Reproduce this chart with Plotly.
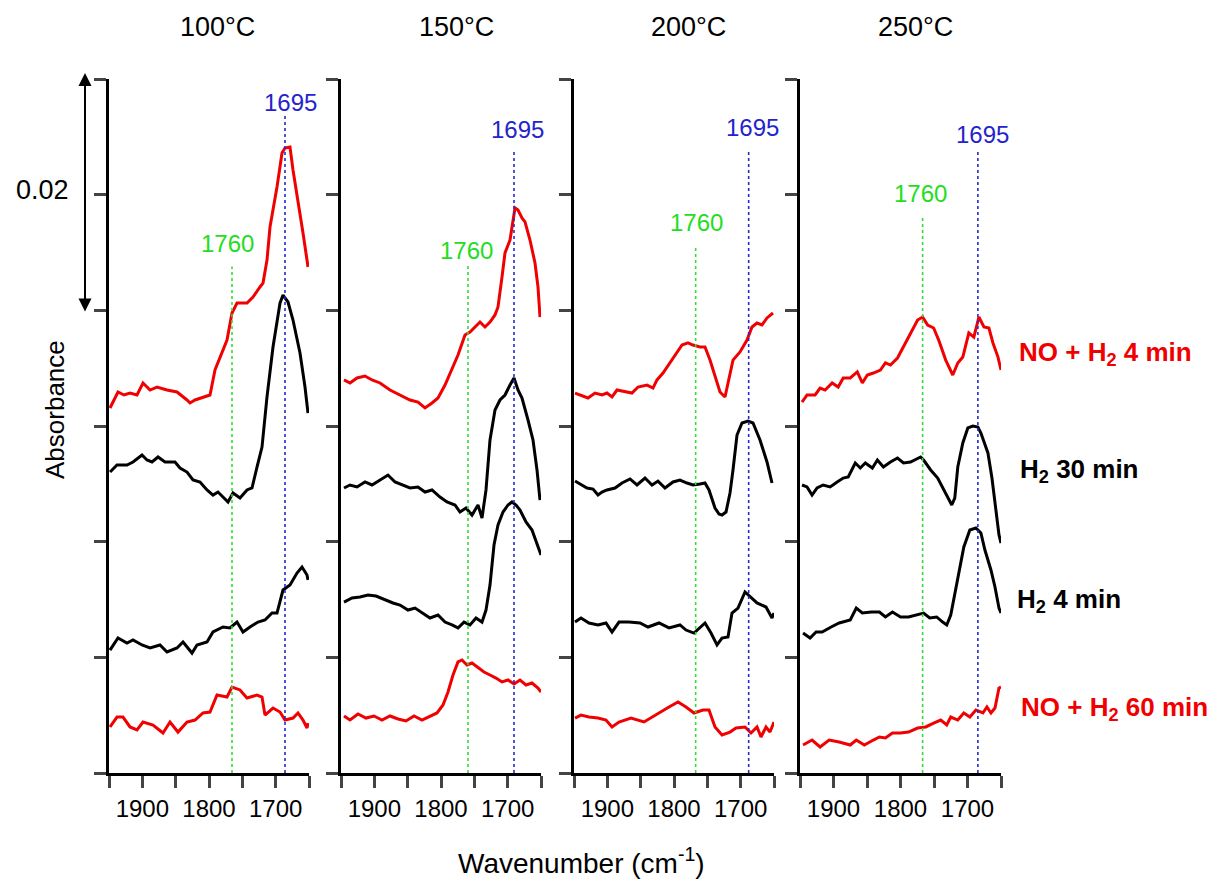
import plotly.graph_objects as go

# ---------------- data (absorbance in units of 1e-3) ----------------
temps = ["100°C", "150°C", "200°C", "250°C"]
series_names = ["NO + H<sub>2</sub> 4 min", "H<sub>2</sub> 30 min", "H<sub>2</sub> 4 min", "NO + H<sub>2</sub> 60 min"]
series_colors = ["#f00000", "#000000", "#000000", "#f00000"]

x_ticks = [1950, 1900, 1850, 1800, 1750, 1700, 1650]
x_tick_text = ["", "1900", "", "1800", "", "1700", ""]
y_ticks = [0, 10, 20, 30, 40, 50, 60]

# 100 C
wn_100_no4 = [1948.5,1936.5,1927.5,1918.5,1908,1899,1888.5,1878,1863,1848,1833,1828.5,1821,1809,1798.5,1791,1783.5,1773,1765.5,1758,1743,1734,1723.5,1719,1713,1708.5,1698,1690.5,1686,1678.5,1674,1666.5,1659,1653,1651.5]
ab_100_no4 = [31.56,32.94,32.68,32.85,32.68,33.72,33.11,33.37,33.11,32.94,32.25,31.99,32.25,32.51,32.68,34.84,35.96,37.43,39.77,40.63,40.63,41.15,42.02,42.36,44.35,47.20,50.66,53.60,54.03,54.12,52.13,49.54,46.68,44.35,43.75]
wn_100_h30 = [1948.5,1938,1923,1914,1900.5,1893,1885.5,1876.5,1866,1851,1843.5,1833,1824,1813.5,1803,1794,1786.5,1771.5,1764,1753.5,1743,1735.5,1728,1720.5,1713,1704,1693.5,1689,1681.5,1674,1663.5,1656,1651.5]
ab_100_h30 = [26.02,26.63,26.63,26.89,27.49,27.06,26.89,27.32,26.89,26.89,26.37,26.02,25.33,25.16,24.47,24.03,24.29,23.43,24.21,23.77,24.47,24.64,26.45,28.18,32.51,36.83,40.63,41.32,40.72,39.16,36.31,33.37,31.12]
wn_100_h4 = [1948.5,1936.5,1923,1914,1900.5,1888.5,1873.5,1863,1848,1839,1825.5,1818,1803,1794,1779,1768.5,1758,1749,1738.5,1726.5,1716,1705.5,1698,1689,1678.5,1668,1660.5,1653,1651.5]
ab_100_h4 = [10.63,11.67,11.24,11.50,11.07,10.81,11.07,10.46,10.81,11.33,10.37,11.07,11.33,12.19,12.62,12.54,13.05,12.19,12.62,13.05,13.23,13.83,13.83,15.82,16.25,17.29,17.81,17.12,16.69]
wn_100_no60 = [1948.5,1938,1929,1918.5,1908,1899,1884,1869,1858.5,1846.5,1833,1821,1809,1798.5,1788,1773,1765.5,1753.5,1743,1728,1720.5,1716,1704,1693.5,1686,1674,1666.5,1659,1653,1651.5]
ab_100_no60 = [3.98,4.84,4.84,3.98,3.72,4.41,4.15,3.46,4.41,3.54,4.41,4.58,5.19,5.27,6.74,6.57,7.43,7.18,6.48,6.74,6.57,5.01,5.62,5.27,4.58,4.75,5.19,4.58,3.89,4.32]

# 150 C
wn_150_no4 = [1945.5,1936.5,1926,1914,1903.5,1891.5,1876.5,1861.5,1846.5,1834.5,1824,1813.5,1804.5,1794,1783.5,1774.5,1764,1756.5,1746,1741.5,1734,1726.5,1719,1714.5,1708.5,1704,1696.5,1692,1689,1684.5,1678.5,1674,1666.5,1659,1654.5,1651.5]
ab_150_no4 = [33.98,33.72,34.15,34.32,33.98,33.72,33.11,32.68,32.25,32.07,31.56,31.99,32.42,33.54,35.01,36.14,37.87,38.13,38.73,38.99,38.56,38.99,39.60,40.29,42.88,44.96,46.08,47.55,48.85,48.67,47.98,47.64,46.08,44.09,42.02,39.42]
wn_150_h30 = [1945.5,1936.5,1926,1914,1903.5,1891.5,1879.5,1869,1858.5,1846.5,1834.5,1824,1813.5,1801.5,1791,1779,1771.5,1762.5,1753.5,1744.5,1738.5,1732.5,1726.5,1719,1711.5,1704,1696.5,1690.5,1684.5,1678.5,1669.5,1662,1656,1651.5]
ab_150_h30 = [24.64,24.90,24.73,25.16,24.90,25.33,25.76,25.16,24.90,24.64,24.73,24.29,24.47,23.86,23.43,23.17,22.56,22.91,22.30,23.17,22.05,24.47,28.79,31.38,32.25,32.68,33.54,34.15,33.11,32.42,30.52,28.79,26.20,23.60]
wn_150_h4 = [1945.5,1933.5,1921.5,1909.5,1897.5,1884,1872,1861.5,1849.5,1839,1828.5,1816.5,1804.5,1794,1783.5,1774.5,1765.5,1756.5,1747.5,1738.5,1732.5,1726.5,1720.5,1714.5,1707,1699.5,1693.5,1687.5,1681.5,1672.5,1663.5,1656,1650]
ab_150_h4 = [14.78,15.13,15.22,15.39,15.30,14.96,14.70,14.52,14.09,14.26,13.83,13.40,13.66,13.05,12.80,12.54,13.05,12.80,13.40,13.05,14.09,16.25,19.71,21.44,22.56,23.17,23.43,23.17,22.74,21.70,21.01,19.71,18.85]
wn_150_no60 = [1945.5,1936.5,1924.5,1912.5,1900.5,1888.5,1876.5,1864.5,1852.5,1840.5,1828.5,1816.5,1806,1797,1789.5,1782,1774.5,1768.5,1761,1753.5,1744.5,1735.5,1726.5,1717.5,1708.5,1699.5,1690.5,1681.5,1672.5,1663.5,1654.5,1650]
ab_150_no60 = [4.93,4.58,5.10,4.75,4.93,4.58,4.93,4.67,4.50,4.93,4.58,4.93,5.19,5.88,7.00,8.47,9.60,9.77,9.34,9.51,9.08,8.73,8.47,8.21,7.87,8.04,7.69,8.04,7.61,7.78,7.35,7.00]

# 200 C
wn_200_no4 = [1948.5,1941,1929,1918.5,1908,1900.5,1893,1885.5,1873.5,1863,1854,1840.5,1831.5,1825.5,1816.5,1806,1795.5,1788,1779,1771.5,1761,1753.5,1746,1738.5,1731,1723.5,1719,1711.5,1701,1690.5,1683,1675.5,1668,1660.5,1651.5]
ab_200_no4 = [32.85,32.68,32.42,32.85,32.68,32.85,32.51,33.11,32.94,32.85,33.37,33.54,33.28,33.98,34.58,35.45,36.40,37.00,37.18,37.00,36.83,36.83,35.70,34.24,32.94,32.51,33.72,35.70,36.40,37.43,38.56,38.90,38.73,39.34,39.77]
wn_200_h30 = [1948.5,1941,1930.5,1921.5,1914,1908,1900.5,1888.5,1878,1866,1855.5,1843.5,1833,1824,1813.5,1801.5,1791,1780.5,1771.5,1761,1753.5,1747.5,1738.5,1732.5,1728,1722,1716,1711.5,1705.5,1698,1689,1681.5,1671,1660.5,1653]
ab_200_h30 = [25.24,24.98,24.64,24.55,24.03,24.29,24.47,24.64,25.07,25.42,24.90,25.50,24.90,25.24,24.64,25.16,25.33,25.07,24.90,24.98,25.07,24.47,22.91,22.39,22.30,22.56,24.21,26.20,29.22,30.26,30.43,30.26,28.79,26.89,25.07]
wn_200_h4 = [1948.5,1939.5,1927.5,1914,1902,1893,1882.5,1867.5,1851,1839,1822.5,1807.5,1791,1782,1770,1753.5,1744.5,1735.5,1728,1719,1713,1704,1693.5,1684.5,1675.5,1662,1653,1650]
ab_200_h4 = [13.05,13.40,12.97,12.80,12.97,12.19,13.05,13.05,12.97,12.62,12.97,12.54,12.80,12.36,12.10,12.97,12.10,11.07,11.67,11.76,13.83,14.26,15.65,15.13,14.70,14.35,13.40,13.83]
wn_200_no60 = [1948.5,1939.5,1927.5,1914,1902,1893,1882.5,1864.5,1845,1833,1819.5,1807.5,1794,1782,1770,1756.5,1747.5,1738.5,1728,1716,1707,1693.5,1684.5,1675.5,1669.5,1662,1656,1650]
ab_200_no60 = [4.75,5.01,4.84,4.75,4.58,3.98,4.41,4.75,4.41,4.84,5.27,5.71,6.14,5.71,5.19,5.45,5.45,3.98,3.29,3.54,3.89,3.98,3.46,3.98,3.11,3.98,3.54,4.41]

# 250 C
wn_250_no4 = [1947,1939.5,1927.5,1920,1912.5,1902,1893,1885.5,1875,1864.5,1857,1849.5,1840.5,1830,1822.5,1815,1804.5,1795.5,1785,1774.5,1767,1759.5,1750.5,1743,1732.5,1722,1714.5,1707,1698,1690.5,1683,1675.5,1668,1662,1654.5,1650]
ab_250_no4 = [32.07,32.68,32.68,33.28,33.11,33.72,33.37,34.15,34.15,34.67,33.72,34.41,34.58,34.84,35.45,35.27,35.88,36.83,38.04,39.16,39.42,38.73,38.47,37.43,35.70,34.41,35.45,35.96,38.04,37.69,39.42,38.56,38.47,37.18,35.96,34.84]
wn_250_h30 = [1947,1939.5,1932,1924.5,1915.5,1905,1894.5,1885.5,1878,1867.5,1860,1852.5,1842,1834.5,1825.5,1815,1804.5,1795.5,1785,1770,1765.5,1755,1744.5,1735.5,1728,1723.5,1719,1714.5,1707,1699.5,1692,1684.5,1680,1669.5,1663.5,1659,1653,1650]
ab_250_h30 = [24.90,24.73,24.03,24.64,24.90,24.73,25.16,25.50,25.59,26.80,26.37,26.80,26.37,27.06,26.45,26.89,27.23,26.80,26.89,27.32,27.06,26.20,25.50,24.47,23.60,23.17,23.77,26.45,28.53,29.83,30.00,29.91,29.39,27.67,25.50,23.17,20.58,19.88]
wn_250_h4 = [1945.5,1935,1926,1917,1903.5,1891.5,1875,1866,1857,1843.5,1831.5,1822.5,1812,1800,1788,1774.5,1765.5,1756.5,1746,1737,1731,1725,1714.5,1705.5,1696.5,1687.5,1680,1674,1665,1659,1653,1650]
ab_250_h4 = [12.10,11.67,12.19,12.19,12.62,12.97,13.23,14.26,13.83,13.92,13.92,13.49,13.92,13.49,13.49,13.66,13.83,13.40,13.49,13.05,12.80,13.66,16.69,19.54,21.01,21.18,20.75,19.28,17.55,16.08,14.26,13.83]
wn_250_no60 = [1945.5,1932,1920,1906.5,1891.5,1875,1866,1854,1840.5,1831.5,1822.5,1812,1800,1788,1774.5,1762.5,1750.5,1740,1731,1725,1714.5,1705.5,1696.5,1687.5,1677,1671,1665,1659,1653,1650]
ab_250_no60 = [2.42,2.85,2.25,2.85,2.68,2.42,2.85,2.42,2.85,3.11,3.03,3.46,3.46,3.54,3.89,3.98,4.32,4.58,4.15,4.84,4.58,5.19,4.84,5.45,5.19,5.71,5.19,5.62,7.35,7.43]

# marker lines (position drawn, top of line) and their labels
peak_labels = ["1760", "1695"]
green_pos = [1765.5, 1759.5, 1767.5, 1767]
green_top = [43.8, 44.1, 45.4, 48.2]
blue_pos = [1686, 1690.5, 1688, 1684.5]
blue_top = [57.0, 53.9, 53.7, 53.9]
green_lbl_x = [1773, 1762.5, 1767, 1770]
green_lbl_y = [45.8, 45.2, 47.6, 50.1]
blue_lbl_x = [1678.5, 1686, 1683, 1677]
blue_lbl_y = [58.0, 55.6, 55.8, 55.2]

panels = [
    [(wn_100_no4, ab_100_no4), (wn_100_h30, ab_100_h30), (wn_100_h4, ab_100_h4), (wn_100_no60, ab_100_no60)],
    [(wn_150_no4, ab_150_no4), (wn_150_h30, ab_150_h30), (wn_150_h4, ab_150_h4), (wn_150_no60, ab_150_no60)],
    [(wn_200_no4, ab_200_no4), (wn_200_h30, ab_200_h30), (wn_200_h4, ab_200_h4), (wn_200_no60, ab_200_no60)],
    [(wn_250_no4, ab_250_no4), (wn_250_h30, ab_250_h30), (wn_250_h4, ab_250_h4), (wn_250_no60, ab_250_no60)],
]

# ---------------- layout geometry (pixel positions in the 1218x880 page) ----------------
W, H = 1218, 880
FONT = "Liberation Sans, Arial, sans-serif"
panel_px = [(109, 309), (341, 541), (574, 774), (800, 1001)]
y_dom = [1 - 773 / H, 1 - 79 / H]
title_px = [217, 456, 688, 915]
label_px = [(1017, 353), (1018, 470), (1015, 600), (1019, 708)]


def px(x):
    return x / W


def py(y):
    return 1 - y / H


fig = go.Figure()
layout = dict(
    width=W, height=H, margin=dict(l=0, r=0, t=0, b=0),
    paper_bgcolor="white", plot_bgcolor="white", showlegend=False,
    font=dict(family=FONT, color="black"),
)
shapes, annotations = [], []

for i, curves in enumerate(panels):
    n = "" if i == 0 else str(i + 1)
    xa, ya = "x" + n, "y" + n
    for k, (xs, ys) in enumerate(curves):
        fig.add_trace(go.Scatter(x=xs, y=ys, mode="lines", xaxis=xa, yaxis=ya,
                                 line=dict(color=series_colors[k], width=3),
                                 name=series_names[k], hoverinfo="skip"))
    x0, x1 = panel_px[i]
    layout["xaxis" + n] = dict(
        domain=[px(x0), px(x1)], anchor=ya, range=[1950, 1650],
        tickvals=x_ticks, ticktext=x_tick_text, ticks="outside", ticklen=12,
        tickwidth=2.5, showline=True, linewidth=2.5, linecolor="black",
        showgrid=False, zeroline=False, tickfont=dict(size=24, family=FONT),
        automargin=False, fixedrange=True)
    layout["yaxis" + n] = dict(
        domain=y_dom, anchor=xa, range=[0, 60], tickvals=y_ticks,
        ticks="outside", ticklen=12, tickwidth=2.5, showticklabels=False,
        showline=True, linewidth=2.5, linecolor="black", showgrid=False,
        zeroline=False, automargin=False, fixedrange=True)
    # marker lines
    shapes.append(dict(type="line", xref=xa, yref=ya, x0=green_pos[i], x1=green_pos[i],
                       y0=0, y1=green_top[i], line=dict(color="#33dd33", width=1.6, dash="dot")))
    shapes.append(dict(type="line", xref=xa, yref=ya, x0=blue_pos[i], x1=blue_pos[i],
                       y0=0, y1=blue_top[i], line=dict(color="#2828d0", width=1.6, dash="dot")))
    annotations.append(dict(xref=xa, yref=ya, x=green_lbl_x[i], y=green_lbl_y[i], text=peak_labels[0],
                            xanchor="center", yanchor="middle",
                            showarrow=False, font=dict(size=24, color="#22dd22", family=FONT)))
    annotations.append(dict(xref=xa, yref=ya, x=blue_lbl_x[i], y=blue_lbl_y[i], text=peak_labels[1],
                            xanchor="center", yanchor="middle",
                            showarrow=False, font=dict(size=24, color="#2424cc", family=FONT)))
    annotations.append(dict(xref="paper", yref="paper", x=px(title_px[i]), y=py(27),
                            xanchor="center", yanchor="middle",
                            text=temps[i], showarrow=False, font=dict(size=27, family=FONT)))

# series labels at right
for k, (lx, ly) in enumerate(label_px):
    annotations.append(dict(xref="paper", yref="paper", x=px(lx), y=py(ly), xanchor="left",
                            yanchor="middle", text="<b>" + series_names[k] + "</b>", showarrow=False,
                            font=dict(size=26, color=series_colors[k], family=FONT)))

# scale bar (0.02 absorbance) with arrowheads at both ends
annotations.append(dict(xref="paper", yref="paper", x=px(85), y=py(73), ax=0, ay=240,
                        axref="pixel", ayref="pixel", text="", showarrow=True,
                        arrowside="end+start", arrowhead=2, arrowsize=1.3, arrowwidth=2,
                        arrowcolor="black", standoff=0, startstandoff=0))
annotations.append(dict(xref="paper", yref="paper", x=px(42), y=py(190), text="0.02",
                        xanchor="center", yanchor="middle",
                        showarrow=False, font=dict(size=27, family=FONT)))
annotations.append(dict(xref="paper", yref="paper", x=px(55), y=py(410), text="Absorbance",
                        xanchor="center", yanchor="middle",
                        textangle=-90, showarrow=False, font=dict(size=26, family=FONT)))
annotations.append(dict(xref="paper", yref="paper", x=px(581), y=py(861),
                        xanchor="center", yanchor="middle",
                        text="Wavenumber (cm<sup>-1</sup>)", showarrow=False,
                        font=dict(size=28, family=FONT)))

layout["shapes"] = shapes
layout["annotations"] = annotations
fig.update_layout(**layout)
fig.write_html("out.html", config={"displayModeBar": False},
               post_script="document.body.style.margin='0';document.body.style.overflow='hidden';")
